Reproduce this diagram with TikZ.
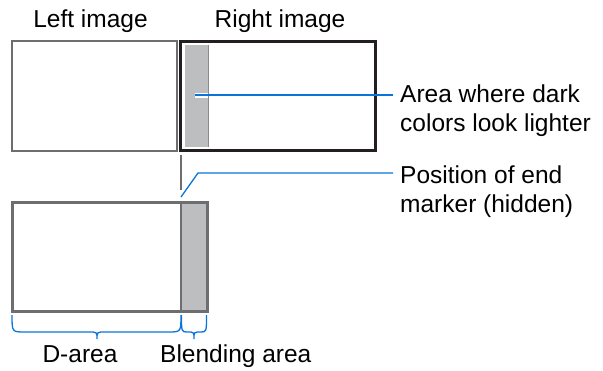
\documentclass[tikz,border=0pt]{standalone}
\usepackage{fontspec}
\setmainfont{Liberation Sans}
\definecolor{framegray}{HTML}{6D6E70}
\definecolor{framedark}{HTML}{231F20}
\definecolor{stripgray}{HTML}{BCBEC0}
\definecolor{stripedge}{HTML}{8A8B8D}
\definecolor{leadblue}{HTML}{0A74DA}
\tikzset{
  lbl/.style={inner sep=0pt, text=black},
  frame/.style={draw=framegray, line width=2.7pt, inner sep=0pt},
  leader/.style={draw=leadblue, line width=1.5pt},
  bracket/.style={draw=leadblue, line width=1.3pt}
}
\begin{document}
\begin{tikzpicture}[x=1pt,y=-1pt,font=\fontsize{24.5}{29}\selectfont]
\useasboundingbox (0,0) rectangle (603,370);
% top labels
\node[lbl, anchor=base] (lt) at (90.5,27) {Left image};
\node[lbl, anchor=base] (rt) at (280,27) {Right image};
% left image
\node[frame, minimum width=165pt, minimum height=110pt] (L) at (94.5,96) {};
% right image
\node[draw=framedark, line width=3pt, inner sep=0pt, minimum width=195pt, minimum height=109pt] (R) at (277.5,95.5) {};
\node[fill=stripgray, inner sep=0pt, minimum width=23pt, minimum height=102pt] (S) at (196.5,96) {};
\draw[stripedge, line width=0.9pt] (S.north east) -- (S.south east);
% bottom image
\fill[stripgray] (181,202) rectangle (207,311);
\node[frame, line width=3pt, minimum width=195pt, minimum height=109pt] (B) at (109.5,256.5) {};
\draw[framegray, line width=2.5pt] (181,202) -- (181,311);
% tick
\draw[framegray, line width=1.1pt] (181,155) -- (181,190);
% texts right
\node[lbl, anchor=north west, align=left] (t1) at (400,84.5) {Area where dark\\colors look lighter};
\node[lbl, anchor=north west, align=left] (t2) at (400,165.5) {Position of end\\marker (hidden)};
% leader 1
\coordinate (a1) at (195,95);
\coordinate (e1) at (393,95);
\draw[white, line width=5pt] (a1) -- (S.east |- a1);
\draw[leader] (a1) -- (e1);
% leader 2
\coordinate (a2) at (181,197);
\coordinate (k2) at (198,173);
\coordinate (e2) at (393,173);
\draw[leader, line width=1.3pt] (a2) -- (k2) -- (e2);
% braces
\draw[bracket] (12,315) .. controls (12,332) .. (25,332) -- (89,332)
  .. controls (97,332) .. (97,339) .. controls (97,332) .. (105,332)
  -- (168,332) .. controls (181,332) .. (181,315);
\draw[bracket] (181.5,315) .. controls (181.5,332) .. (187.5,332)
  .. controls (194,332) .. (194,339) .. controls (194,332) .. (200.5,332)
  .. controls (206.5,332) .. (206.5,315);
% bottom labels
\node[lbl, anchor=base] (dl) at (80,362) {D-area};
\node[lbl, anchor=base west] (bl) at (160,362) {Blending area};
\end{tikzpicture}
\end{document}
